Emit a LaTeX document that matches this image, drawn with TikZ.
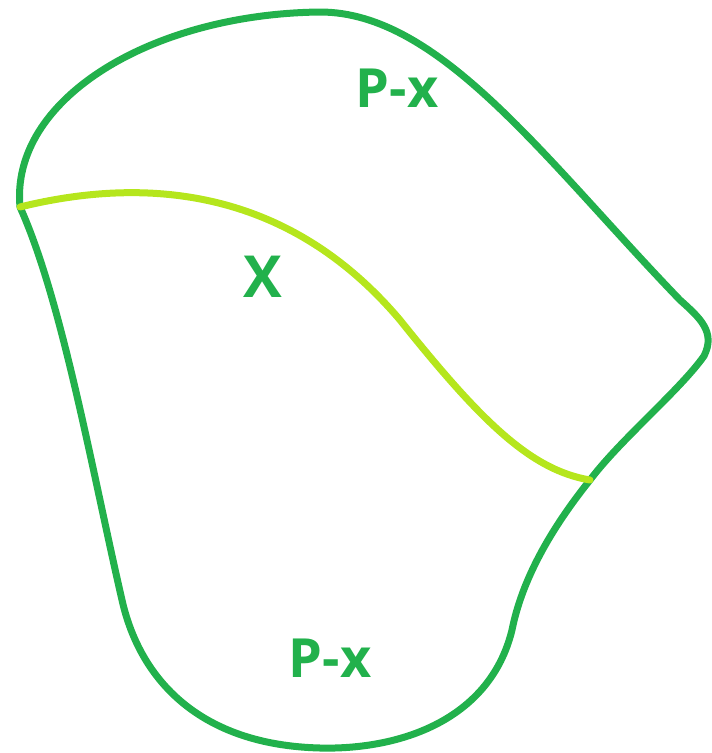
\documentclass[tikz,border=0pt]{standalone}
\usepackage{fontspec}
\setmainfont{Open Sans}
\usetikzlibrary{positioning}

\definecolor{leafgreen}{HTML}{22B14C}
\definecolor{limegreen}{HTML}{B5E61D}

\tikzset{
  outline/.style={draw=leafgreen, line width=7pt, line join=round, line cap=round},
  cutline/.style={draw=limegreen, line width=7pt, line cap=round},
  partlabel/.style={text=leafgreen, font=\bfseries\fontsize{54}{58}\selectfont, inner sep=0pt},
}

\begin{document}
\begin{tikzpicture}[x=1pt, y=-1pt]
  % --- page frame ---
  \useasboundingbox (0,0) rectangle (712,753);

  % --- ends of the cut ---
  \coordinate (lft) at (20,207);
  \coordinate (rgt) at (590,480);

  % --- outer boundary ---
  \draw[outline] (lft)
    .. controls (10,100) and (150,14) .. (320,12)
    .. controls (440,12) and (545,160) .. (680,300)
    .. controls (700,318) and (716,332) .. (704,356)
    .. controls (680,390) and (620,440) .. (rgt)
    .. controls (550,530) and (522,580) .. (512,630)
    .. controls (490,720) and (400,750) .. (320,748)
    .. controls (200,745) and (140,680) .. (122,600)
    .. controls (92,470) and (62,300) .. (lft);

  % --- the cut x ---
  \draw[cutline] (lft)
    .. controls (150,175) and (290,190) .. (400,320)
    .. controls (480,420) and (530,470) .. (rgt);

  % --- labels ---
  \node[partlabel] (top) at (397,88) {P-x};
  \node[partlabel, font=\bfseries\fontsize{58}{62}\selectfont] (cut) at (263,277) {X};
  \node[partlabel] (bot) at (330,658) {P-x};
\end{tikzpicture}
\end{document}
